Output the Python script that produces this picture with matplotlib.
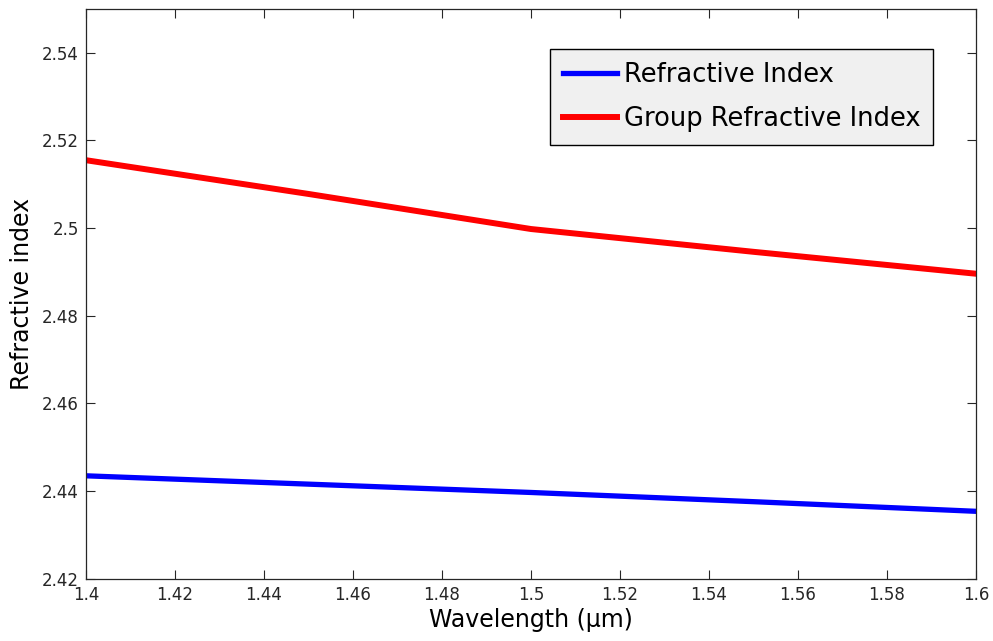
import numpy as np
import matplotlib
matplotlib.use('Agg')
import matplotlib.pyplot as plt

# wavelength in micrometres
wavelength = [1.40, 1.45, 1.50, 1.55, 1.60]
n_eff = [2.4435, 2.4416, 2.4397, 2.4376, 2.4354]
n_group = [2.5155, 2.5078, 2.4998, 2.4946, 2.4896]

x_ticks = [1.40, 1.42, 1.44, 1.46, 1.48, 1.50, 1.52, 1.54, 1.56, 1.58, 1.60]
y_ticks = [2.42, 2.44, 2.46, 2.48, 2.50, 2.52, 2.54]

plt.rcParams['font.family'] = 'DejaVu Sans'

fig = plt.figure(figsize=(9.93, 6.41), dpi=100)
ax = fig.add_axes([0.0866, 0.097, 0.8963, 0.889])

ax.plot(wavelength, n_eff, color='#0000ff', lw=3.8, label='Refractive Index')
ax.plot(wavelength, n_group, color='#ff0000', lw=4.3, label='Group Refractive Index')

ax.set_xlim(1.4, 1.6)
ax.set_ylim(2.42, 2.55)
ax.set_xticks(x_ticks)
ax.set_yticks(y_ticks)
ax.set_xticklabels(['%g' % v for v in x_ticks])
ax.set_yticklabels(['%g' % v for v in y_ticks])

ax.tick_params(direction='in', length=6.5, width=0.8, top=True, right=True,
               labelsize=12, colors='#262626', pad=5)
for s in ax.spines.values():
    s.set_color('#262626')
    s.set_linewidth(0.9)

ax.set_xlabel('Wavelength (\u03bcm)', fontsize=17, labelpad=3)
ax.set_ylabel('Refractive index', fontsize=17, labelpad=6)

leg = ax.legend(loc='upper right', bbox_to_anchor=(0.9517, 0.9298), borderaxespad=0,
                fontsize=18.5, handlelength=2.1, handletextpad=0.25, borderpad=0.5,
                labelspacing=0.72, fancybox=False, framealpha=1,
                facecolor='#f0f0f0', edgecolor='black')
leg.get_frame().set_linewidth(1.0)

fig.savefig('out.png', dpi=100)
